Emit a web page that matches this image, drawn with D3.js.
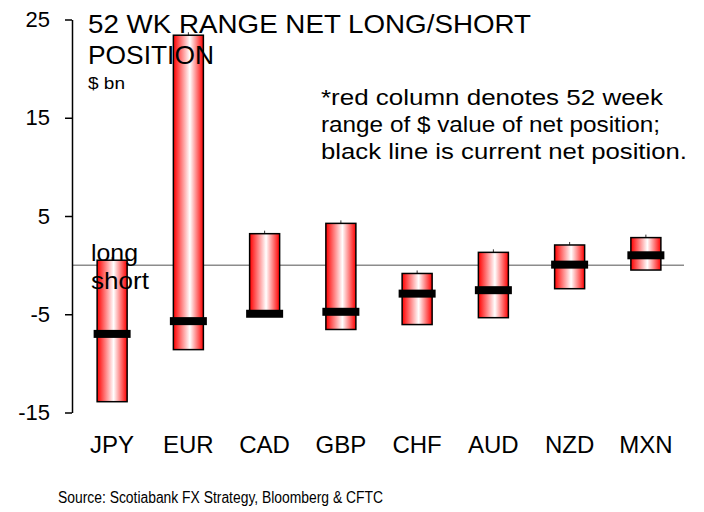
<!DOCTYPE html>
<html>
<head>
<meta charset="utf-8">
<script src="https://cdn.jsdelivr.net/npm/d3@7"></script>
<style>
  html, body { margin: 0; padding: 0; background: #fff; }
  svg { display: block; font-family: "Liberation Sans", Arial, sans-serif; }
</style>
</head>
<body>
<svg id="chart" width="704" height="512"></svg>
<script>
// ---- data ----
const categories = ["JPY", "EUR", "CAD", "GBP", "CHF", "AUD", "NZD", "MXN"];
const rangeHigh  = [0.5, 23.4, 3.2, 4.25, -0.85, 1.3, 2.05, 2.8];
const rangeLow   = [-13.9, -8.6, -5.0, -6.55, -6.05, -5.35, -2.4, -0.5];
const current    = [-7.0, -5.7, -4.95, -4.75, -2.9, -2.55, 0.05, 1.0];
const yTicks     = [25, 15, 5, -5, -15];
const titleLines = ["52 WK RANGE  NET LONG/SHORT", "POSITION"];
const unitLabel  = "$ bn";
const noteLines  = ["*red column denotes  52 week", "range of $ value of net position;", "black line is current net position."];
const sourceText = "Source: Scotiabank FX Strategy, Bloomberg & CFTC";

const svg = d3.select("#chart");

const x = d3.scalePoint().domain(categories).range([74, 684]).padding(0.5);
const y = d3.scaleLinear().domain([-15, 25]).range([412.5, 19.5]);
const barW = 30, markW = 37, markH = 8;

// gradient
const defs = svg.append("defs");
const grad = defs.append("linearGradient").attr("id", "barGrad")
  .attr("x1", "0%").attr("x2", "100%").attr("y1", "0%").attr("y2", "0%");
grad.append("stop").attr("offset", "0%").attr("stop-color", "#ff0000");
grad.append("stop").attr("offset", "55%").attr("stop-color", "#ffffff");
grad.append("stop").attr("offset", "100%").attr("stop-color", "#ff0000");

// zero line
svg.append("line")
  .attr("x1", 72).attr("x2", 684)
  .attr("y1", y(0)).attr("y2", y(0))
  .attr("stroke", "#8c8c8c").attr("stroke-width", 1.5);

const rows = categories.map((c, i) => ({ c, hi: rangeHigh[i], lo: rangeLow[i], cur: current[i] }));

// small caps above bars
svg.append("g").selectAll("line").data(rows).join("line")
  .attr("x1", d => x(d.c)).attr("x2", d => x(d.c))
  .attr("y1", d => y(d.hi) - 3).attr("y2", d => y(d.hi))
  .attr("stroke", "#333").attr("stroke-width", 1);

// range bars
svg.append("g").selectAll("rect").data(rows).join("rect")
  .attr("x", d => x(d.c) - barW / 2)
  .attr("width", barW)
  .attr("y", d => y(d.hi))
  .attr("height", d => y(d.lo) - y(d.hi))
  .attr("fill", "url(#barGrad)")
  .attr("stroke", "#000").attr("stroke-width", 1.5);

// current markers
svg.append("g").selectAll("rect").data(rows).join("rect")
  .attr("x", d => x(d.c) - markW / 2)
  .attr("width", markW)
  .attr("y", d => y(d.cur) - markH / 2)
  .attr("height", markH)
  .attr("fill", "#000");

// y axis
const yAxis = d3.axisLeft(y).tickValues(yTicks).tickSize(7).tickSizeOuter(0).tickPadding(15)
  .tickFormat(d => String(d));
const gy = svg.append("g").attr("transform", "translate(72,0)").call(yAxis);
gy.select(".domain").attr("stroke", "#000").attr("stroke-width", 1.5);
gy.selectAll(".tick line").attr("stroke", "#000").attr("stroke-width", 1.5);
gy.selectAll(".tick text").attr("font-size", 22).attr("fill", "#000")
  .attr("font-family", "Liberation Sans, Arial, sans-serif");

// x category labels
svg.append("g").selectAll("text").data(categories).join("text")
  .attr("x", d => x(d)).attr("y", 453)
  .attr("text-anchor", "middle").attr("font-size", 24).attr("fill", "#000")
  .text(d => d);

// title
svg.append("text").attr("x", 88).attr("y", 33).attr("font-size", 26.5)
  .attr("textLength", 443).attr("lengthAdjust", "spacingAndGlyphs").text(titleLines[0]);
svg.append("text").attr("x", 88).attr("y", 64).attr("font-size", 26.5)
  .attr("textLength", 126).attr("lengthAdjust", "spacingAndGlyphs").text(titleLines[1]);
svg.append("text").attr("x", 88).attr("y", 89).attr("font-size", 17)
  .attr("textLength", 37).attr("lengthAdjust", "spacingAndGlyphs").text(unitLabel);

// note
const noteW = [342, 339, 366];
noteLines.forEach((t, i) => {
  svg.append("text").attr("x", 321).attr("y", 105 + i * 27)
    .attr("font-size", 22).attr("textLength", noteW[i]).attr("lengthAdjust", "spacingAndGlyphs").text(t);
});

// long / short
svg.append("text").attr("x", 91).attr("y", 261).attr("font-size", 24.5)
  .attr("textLength", 47).attr("lengthAdjust", "spacingAndGlyphs").text("long");
svg.append("text").attr("x", 91).attr("y", 289).attr("font-size", 24.5)
  .attr("textLength", 58).attr("lengthAdjust", "spacingAndGlyphs").text("short");

// source
svg.append("text").attr("x", 58).attr("y", 503).attr("font-size", 16)
  .attr("textLength", 325).attr("lengthAdjust", "spacingAndGlyphs").text(sourceText);
</script>
</body>
</html>
